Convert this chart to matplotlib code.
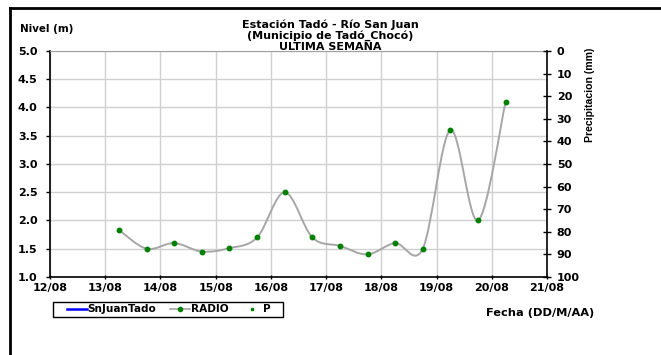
import numpy as np
import matplotlib
matplotlib.use("Agg")
import matplotlib.pyplot as plt
import matplotlib.dates as mdates
from matplotlib.path import Path
from matplotlib.patches import PathPatch, Rectangle
from matplotlib.lines import Line2D
import pandas as pd

plt.rcParams['font.family'] = ['DejaVu Sans']
plt.rcParams['font.weight'] = 'bold'

# data
fechas = ["2020-08-13 06:00", "2020-08-13 18:00", "2020-08-14 06:00", "2020-08-14 18:00",
          "2020-08-15 06:00", "2020-08-15 18:00", "2020-08-16 06:00", "2020-08-16 18:00",
          "2020-08-17 06:00", "2020-08-17 18:00", "2020-08-18 06:00", "2020-08-18 18:00",
          "2020-08-19 06:00", "2020-08-19 18:00", "2020-08-20 06:00"]
radio = [1.83, 1.50, 1.60, 1.45, 1.51, 1.70, 2.50, 1.70, 1.55, 1.40, 1.60, 1.50, 3.60, 2.00, 4.10]
x_inicio = "2020-08-12"
x_fin = "2020-08-21"
titulo = ["Estación Tadó - Río San Juan", "(Municipio de Tadó_Chocó)", "ULTIMA SEMANA"]

x = mdates.date2num(pd.to_datetime(fechas))
y = np.array(radio)

fig = plt.figure(figsize=(6.61, 3.55), dpi=100)
ax = fig.add_axes([50/661, 1 - 277/355, 497/661, 226/355])

# smooth (excel-like) bezier through the points
pts = np.column_stack([x, y])
verts = [pts[0]]
codes = [Path.MOVETO]
n = len(pts)
for i in range(n - 1):
    p0 = pts[i - 1] if i > 0 else pts[i]
    p1 = pts[i]
    p2 = pts[i + 1]
    p3 = pts[i + 2] if i + 2 < n else pts[i + 1]
    c1 = p1 + (p2 - p0) / 6.0
    c2 = p2 - (p3 - p1) / 6.0
    verts += [c1, c2, p2]
    codes += [Path.CURVE4] * 3
ax.add_patch(PathPatch(Path(verts, codes), facecolor='none', edgecolor='#a6a6a6', lw=1.4, zorder=3))
ax.plot(x, y, ls='none', marker='o', ms=3.2, color='#008000', mec='#008000', zorder=4)

ax.set_xlim(mdates.date2num(pd.Timestamp(x_inicio)), mdates.date2num(pd.Timestamp(x_fin)))
ax.set_ylim(1.0, 5.0)
ax.set_yticks(np.arange(1.0, 5.01, 0.5))
ax.yaxis.set_major_formatter(plt.FormatStrFormatter('%.1f'))
ax.xaxis.set_major_locator(mdates.DayLocator())
ax.xaxis.set_major_formatter(mdates.DateFormatter('%d/%m'))
ax.grid(True, color='#d0d0d0', lw=1.0)
ax.set_axisbelow(True)
ax.tick_params(axis='y', labelsize=8, length=3, width=1, pad=6)
ax.tick_params(axis='x', labelsize=8, length=3, width=1, direction='inout', pad=3)
for s in ['left', 'bottom']:
    ax.spines[s].set_linewidth(1.2)
ax.spines['top'].set_color('#a0a0a0')
ax.spines['right'].set_visible(False)

ax2 = ax.twinx()
ax2.set_ylim(100, 0)
ax2.set_yticks(np.arange(0, 101, 10))
ax2.tick_params(axis='y', labelsize=8, length=6, width=1, direction='inout', pad=4)
ax2.spines['right'].set_linewidth(1.2)
for s in ['left', 'bottom', 'top']:
    ax2.spines[s].set_visible(False)

for k, linea in enumerate(titulo):
    fig.text(330/661, 1 - (27.5 + 11.5 * k)/355, linea, ha='center', va='baseline',
             fontsize=8, fontweight='bold')
fig.text(20/661, 1 - 29/355, "Nivel (m)", ha='left', va='center', fontsize=7.4, fontweight='bold')
fig.text(590/661, 1 - 95/355, "Precipitacion (mm)", ha='center', va='center', rotation=90,
         fontsize=7.6, fontweight='bold', family='Liberation Sans')
fig.text(540/661, 1 - 313/355, "Fecha (DD/M/AA)", ha='center', va='center', fontsize=8.2, fontweight='bold')

handles = [Line2D([], [], color='#0000ff', lw=1.8),
           Line2D([], [], color='#a6a6a6', lw=1.2, marker='o', ms=3, mfc='#008000', mec='#008000'),
           Line2D([], [], ls='none', marker='s', ms=2, color='#008000')]
leg = fig.legend(handles, ['SnJuanTado', 'RADIO', 'P'], loc='center left',
                 bbox_to_anchor=(67/661, 1 - 309.5/355), ncol=3, prop={'size': 7.6, 'weight': 'bold'},
                 frameon=False, handlelength=1.9, handletextpad=0.05, columnspacing=1.3,
                 borderpad=0, borderaxespad=0)
fig.add_artist(Rectangle((53/661, 1 - 317/355), 230/661, 15/355, transform=fig.transFigure,
                         facecolor='none', edgecolor='black', lw=1.0))

# outer border (top and left edges visible)
fig.add_artist(Line2D([10/661, 1], [1 - 8/355, 1 - 8/355], color='black', lw=2, transform=fig.transFigure))
fig.add_artist(Line2D([10/661, 10/661], [0, 1 - 8/355], color='black', lw=2, transform=fig.transFigure))

fig.savefig("out.png", dpi=100)
